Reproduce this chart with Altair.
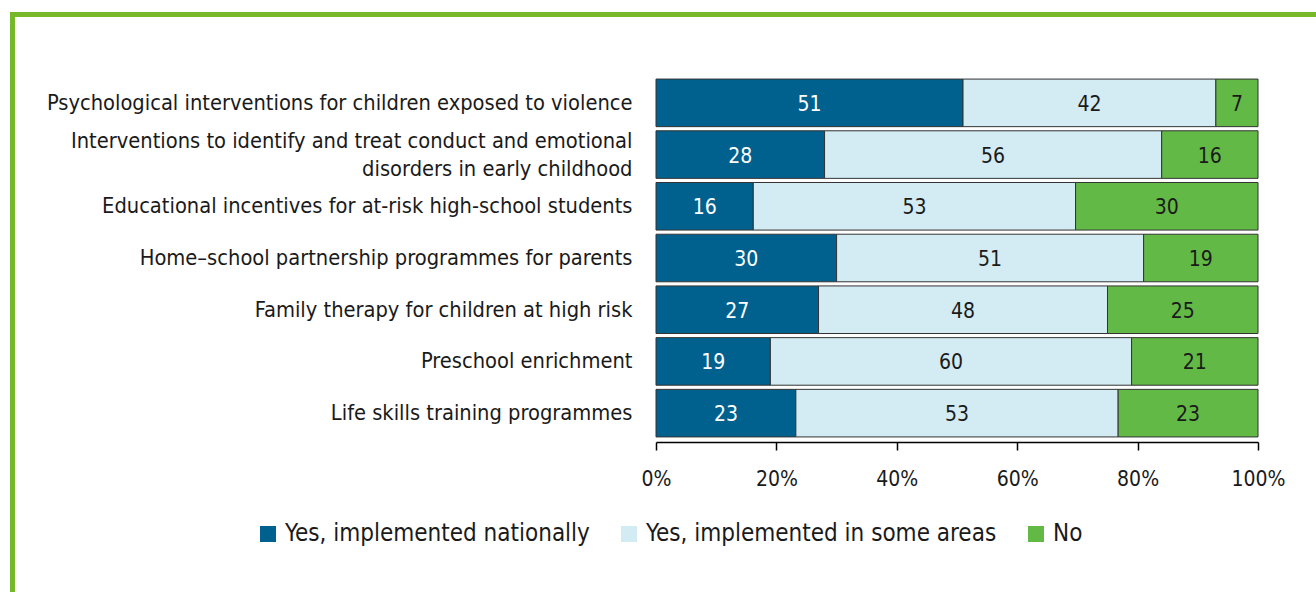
import altair as alt
import pandas as pd

programmes = [
    "Psychological interventions for children exposed to violence",
    "Interventions to identify and treat conduct and emotional|disorders in early childhood",
    "Educational incentives for at-risk high-school students",
    "Home–school partnership programmes for parents",
    "Family therapy for children at high risk",
    "Preschool enrichment",
    "Life skills training programmes",
]
categories = ["Yes, implemented nationally", "Yes, implemented in some areas", "No"]
nationally = [51, 28, 16, 30, 27, 19, 23]
some_areas = [42, 56, 53, 51, 48, 60, 53]
no_impl = [7, 16, 30, 19, 25, 21, 23]
colors = ["#00618f", "#d3ebf3", "#63b946"]
tick_vals = [0, 0.2, 0.4, 0.6, 0.8, 1.0]

rows = []
for i, p in enumerate(programmes):
    for k, (c, vals) in enumerate(zip(categories, [nationally, some_areas, no_impl])):
        rows.append({"programme": p, "category": c, "value": vals[i], "order": k})
df = pd.DataFrame(rows)

FONT = "DejaVu Sans Condensed"

base = alt.Chart(df).transform_joinaggregate(
    total="sum(value)", groupby=["programme"]
).transform_window(
    cum="sum(value)", groupby=["programme"], sort=[alt.SortField("order")], frame=[None, 0]
).transform_calculate(
    start="(datum.cum - datum.value) / datum.total",
    end="datum.cum / datum.total",
    mid="(datum.cum - datum.value / 2) / datum.total",
)

yenc = alt.Y(
    "programme:N",
    sort=programmes,
    title=None,
    scale=alt.Scale(paddingInner=0.08, paddingOuter=0.04),
    axis=alt.Axis(
        domain=False, ticks=False, labelPadding=24, labelFontSize=21.7,
        labelLimit=700, labelColor="#1a1a1a", labelLineHeight=28,
        labelExpr="split(datum.label, '|')",
        labelOffset={"expr": "indexof(datum.value, '|') >= 0 ? -14 : 0"},
    ),
)

bars = base.mark_bar(stroke="#333333", strokeWidth=1).encode(
    y=yenc,
    x=alt.X(
        "start:Q",
        scale=alt.Scale(domain=[0, 1], nice=False),
        title=None,
        axis=alt.Axis(
            values=tick_vals, format=".0%", grid=False, offset=3,
            domainColor="#000000", domainWidth=1.5, tickColor="#000000",
            tickWidth=1.5, tickSize=8, labelPadding=18, labelFontSize=21,
            labelColor="#1a1a1a", labelFlush=False,
        ),
    ),
    x2="end:Q",
    color=alt.Color(
        "category:N",
        sort=categories,
        scale=alt.Scale(domain=categories, range=colors),
        legend=alt.Legend(
            title=None, orient="none", direction="horizontal",
            legendX=-400, legendY=445, symbolType="square", symbolSize=256,
            symbolStrokeWidth=0, labelFontSize=24, labelColor="#1a1a1a",
            columnPadding=27, labelOffset=5, labelLimit=500,
        ),
    ),
)

texts = base.mark_text(fontSize=21, baseline="middle", dy=2).encode(
    y=alt.Y("programme:N", sort=programmes),
    x=alt.X("mid:Q"),
    text=alt.Text("value:Q"),
    color=alt.condition(
        alt.datum.category == categories[0], alt.value("#ffffff"), alt.value("#1a1a1a")
    ),
)

frame_top = alt.Chart(df).mark_rule(color="#76b82a", strokeWidth=5).encode(
    x=alt.value(-646), x2=alt.value(660), y=alt.value(-62.5)
)
frame_left = alt.Chart(df).mark_rule(color="#76b82a", strokeWidth=5).encode(
    x=alt.value(-643.5), y=alt.value(-65), y2=alt.value(520)
)

chart = alt.layer(frame_top, frame_left, bars, texts).properties(
    width=602, height=362,
    autosize=alt.AutoSizeParams(type="none"),
    padding={"left": 656, "top": 77, "right": 58, "bottom": 153},
).configure(font=FONT).configure_view(stroke=None)

chart.save("out.html", embed_options={"renderer": "svg", "actions": False})
